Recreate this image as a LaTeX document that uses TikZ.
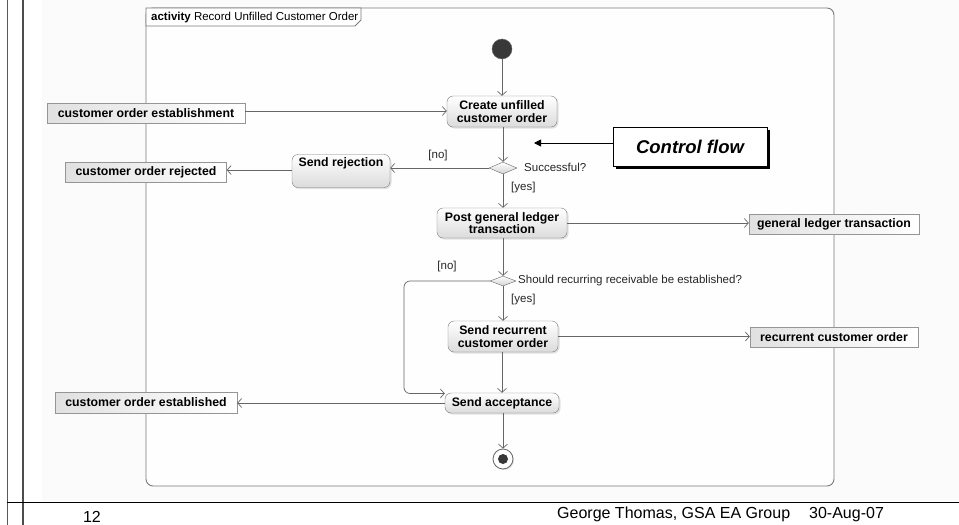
\documentclass[tikz,border=0pt]{standalone}
\usepackage{fontspec}
\setmainfont{Liberation Sans}
\usetikzlibrary{arrows.meta,shapes.geometric,shadows,calc}
\definecolor{lineg}{HTML}{666666}
\definecolor{frameg}{HTML}{7A7A7A}
\tikzset{
  act/.style={draw=frameg, rounded corners=6pt, top color=white, bottom color=gray!28,
    drop shadow={shadow xshift=1.5pt, shadow yshift=-1.5pt, fill=gray!45},
    font=\fontsize{12.3}{12.5}\selectfont\bfseries, align=center, inner sep=0pt},
  obj/.style={draw=frameg!80, left color=gray!24, right color=white,
    font=\fontsize{12.3}{13}\selectfont\bfseries, inner sep=0pt, minimum height=20pt},
  flow/.style={draw=lineg, line width=0.7pt, -{Straight Barb[length=4pt,width=9pt]}},
  lbl/.style={font=\fontsize{11.5}{12}\selectfont, inner sep=0pt, text=black!85},
  dec/.style={diamond, draw=lineg, top color=white, bottom color=gray!35, inner sep=0pt},
}
\begin{document}
\begin{tikzpicture}[x=1pt,y=-1pt]
\useasboundingbox (0,0) rectangle (959,525);
% page background
\fill[gray!3] (42,0) rectangle (959,501);
\draw[gray!70!black, line width=1pt] (7.5,0) -- (7.5,525);
\draw[gray!60!black, line width=1.6pt] (23,0) -- (23,525);
\draw[black, line width=1pt] (7,502) -- (959,502);

% activity frame
\draw[frameg, line width=0.9pt, rounded corners=7pt, fill=gray!1] (146,8) rectangle (834,486);
\draw[frameg, line width=0.8pt, fill=white] (146,26) -- (146,8) -- (361,8) -- (361,20) -- (355,26) -- cycle;
\node[font=\fontsize{11.5}{12}\selectfont, anchor=west, inner sep=0pt] (tab) at (151,17.5)
  {\textbf{activity} Record Unfilled Customer Order};

% nodes
\node[circle, fill=black!78, draw=black!60, minimum size=20pt, inner sep=0pt] (init) at (502,49) {};
\node[act, minimum width=110pt, minimum height=31pt] (create) at (502,111.5) {Create unfilled\\customer order};
\node[obj, minimum width=198pt] (coe) at (146,113) {customer order establishment};
\node[dec, minimum width=28pt, minimum height=12pt] (d1) at (503,168) {};
\node[act, minimum width=98pt, inner ysep=3pt, text height=9pt, text depth=18pt] (rej) at (341,171) {Send rejection};
\node[obj, minimum width=161pt] (cor) at (146,172) {customer order rejected};
\node[act, minimum width=130pt, minimum height=30pt] (post) at (502,223) {Post general ledger\\transaction};
\node[obj, minimum width=170pt] (glt) at (834,224) {general ledger transaction};
\node[dec, minimum width=26pt, minimum height=10pt] (d2) at (503,281) {};
\node[act, minimum width=110pt, minimum height=31pt] (rec) at (503,336.5) {Send recurrent\\customer order};
\node[obj, minimum width=168pt] (rco) at (834,337) {recurrent customer order};
\node[act, minimum width=114pt, minimum height=20pt] (acc) at (502,403) {Send acceptance};
\node[obj, minimum width=182pt, minimum height=21pt] (coed) at (146,402.5) {customer order established};
\node[circle, draw=lineg, line width=0.8pt, fill=white, minimum size=20pt, inner sep=0pt,
  drop shadow={shadow xshift=1pt, shadow yshift=-1pt, fill=gray!40}] (fin) at (503,459) {};
\fill[black!78] (fin.center) circle (5);

% control flow note
\node[draw=black, line width=1pt, fill=white, minimum width=154pt, minimum height=39pt,
  drop shadow={shadow xshift=3pt, shadow yshift=-3pt, fill=black, opacity=1},
  font=\fontsize{18.5}{20}\selectfont\bfseries\itshape] (cf) at (690,146.5) {Control flow};
\coordinate (cftip) at (534,143);
\draw[black, line width=0.9pt, -{Triangle[length=7pt,width=7pt]}] (cf.west |- cftip) -- (cftip);

% connectors
\draw[flow] (init) -- (create.north -| init);
\draw[flow] (coe.east |- 0,111) -- (create.west |- 0,111);
\draw[flow] (create.south -| d1) -- (d1.north);
\draw[flow] (d1.west) -- (d1.west -| rej.east);
\draw[flow] (rej.west |- 0,170) -- (cor.east |- 0,170);
\draw[flow] (d1.south) -- (post.north -| d1);
\draw[flow] (post.east) -- (glt.west |- post.east);
\draw[flow] (post.south -| d2) -- (d2.north);
\draw[flow] (d2.south) -- (rec.north -| d2);
\draw[flow] (rec.east) -- (rco.west |- rec.east);
\draw[flow] (rec.south -| acc) -- (acc.north);
\draw[flow] (acc.west) -- (coed.east |- acc.west);
\draw[flow] (acc.south -| fin) -- (fin.north);
\coordinate (loop) at (404,337);
\draw[flow, rounded corners=6pt] (d2.west) -| (loop) |- ([yshift=9.5pt]acc.west);

% labels
\node[lbl, anchor=west] (l1) at (524,167.5) {Successful?};
\node[lbl] (l2) at (438,155.5) {[no]};
\node[lbl, anchor=west] (l3) at (511,188) {[yes]};
\node[lbl, anchor=west] (l4) at (518,281) {Should recurring receivable be established?};
\node[lbl] (l5) at (447,267) {[no]};
\node[lbl, anchor=west] (l6) at (511,300) {[yes]};

% footer
\node[font=\fontsize{16}{18}\selectfont, inner sep=0pt] (pg) at (92,517) {12};
\node[font=\fontsize{16}{18}\selectfont, inner sep=0pt, anchor=west] (auth) at (557,514.5) {George Thomas, GSA EA Group};
\node[font=\fontsize{16}{18}\selectfont, inner sep=0pt, anchor=west] (date) at (809,514.5) {30-Aug-07};
\end{tikzpicture}
\end{document}
